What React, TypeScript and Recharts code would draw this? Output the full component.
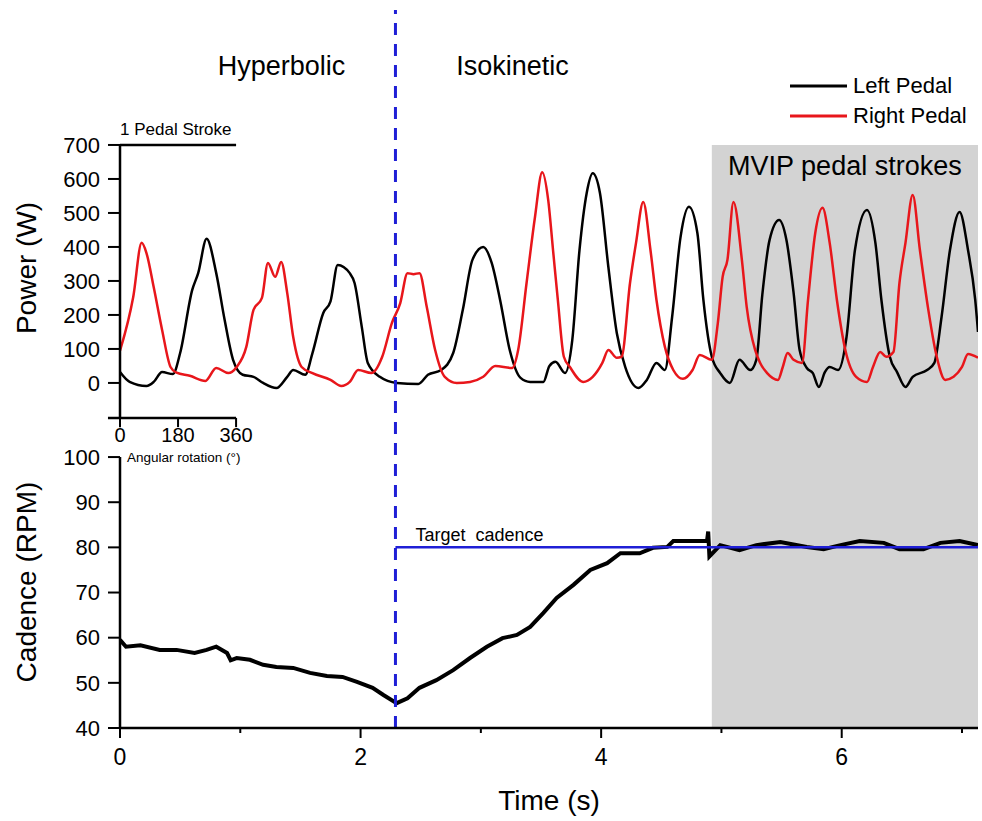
import React from 'react';
import { ComposedChart, Line, XAxis, YAxis, ReferenceLine, ReferenceArea, Legend } from 'recharts';

const FONT = 'Arial, "Liberation Sans", Helvetica, sans-serif';

// left pedal power (black)
const leftTime = [0, 0.08, 0.22, 0.28, 0.35, 0.44, 0.5, 0.6, 0.65, 0.72, 0.8, 0.87, 0.94, 1.02, 1.11, 1.19, 1.3, 1.39, 1.44, 1.54, 1.6, 1.69, 1.75, 1.81, 1.91, 1.95, 2.01, 2.06, 2.16, 2.3, 2.48, 2.56, 2.67, 2.77, 2.85, 2.93, 3.02, 3.09, 3.16, 3.24, 3.33, 3.41, 3.52, 3.57, 3.62, 3.7, 3.76, 3.82, 3.88, 3.93, 3.99, 4.06, 4.13, 4.2, 4.31, 4.38, 4.46, 4.53, 4.59, 4.66, 4.73, 4.8, 4.85, 4.92, 4.99, 5.07, 5.15, 5.24, 5.29, 5.34, 5.4, 5.48, 5.54, 5.6, 5.65, 5.71, 5.76, 5.81, 5.86, 5.9, 5.97, 6.04, 6.11, 6.21, 6.28, 6.33, 6.4, 6.46, 6.53, 6.59, 6.71, 6.77, 6.83, 6.9, 6.98, 7.05, 7.11, 7.133];
const leftPower = [32, 3, -9, 3, 32, 26, 88, 273, 323, 424, 323, 185, 68, 24, 18, 0, -15, 18, 38, 24, 88, 206, 240, 347, 323, 294, 165, 59, 18, 0, -3, 24, 38, 88, 215, 362, 400, 353, 244, 97, 15, 3, 3, 50, 62, 29, 126, 391, 559, 617, 559, 341, 147, 47, -15, 9, 59, 38, 194, 429, 518, 441, 244, 77, 29, 0, 68, 38, 68, 260, 420, 479, 421, 265, 97, 44, 29, -12, 32, 47, 38, 135, 391, 509, 412, 244, 77, 32, -12, 18, 38, 59, 194, 391, 503, 391, 244, 150];

// right pedal power (red)
const rightTime = [0, 0.11, 0.18, 0.22, 0.28, 0.35, 0.42, 0.47, 0.58, 0.71, 0.8, 0.9, 0.97, 1.05, 1.11, 1.18, 1.23, 1.29, 1.34, 1.39, 1.44, 1.51, 1.6, 1.75, 1.84, 1.91, 1.98, 2.09, 2.18, 2.26, 2.33, 2.39, 2.44, 2.49, 2.55, 2.62, 2.7, 2.8, 2.91, 3.02, 3.12, 3.26, 3.31, 3.38, 3.45, 3.51, 3.56, 3.6, 3.64, 3.69, 3.74, 3.85, 3.93, 4.01, 4.06, 4.13, 4.17, 4.24, 4.29, 4.35, 4.41, 4.46, 4.53, 4.6, 4.68, 4.76, 4.82, 4.92, 4.97, 5.01, 5.05, 5.1, 5.17, 5.21, 5.28, 5.32, 5.38, 5.47, 5.51, 5.55, 5.6, 5.67, 5.72, 5.78, 5.84, 5.9, 5.96, 6.03, 6.12, 6.21, 6.26, 6.32, 6.37, 6.43, 6.48, 6.53, 6.59, 6.65, 6.72, 6.79, 6.86, 6.93, 7.0, 7.05, 7.133];
const rightPower = [95, 253, 412, 382, 282, 156, 47, 30, 21, 6, 44, 29, 47, 106, 215, 250, 353, 312, 356, 265, 135, 47, 29, 9, -9, 3, 38, 29, 77, 176, 235, 323, 320, 323, 224, 97, 18, 0, 3, 18, 50, 44, 97, 294, 488, 620, 538, 391, 244, 77, 47, 3, 18, 59, 97, 74, 77, 294, 412, 532, 391, 244, 106, 38, 12, 38, 82, 68, 176, 312, 362, 532, 362, 224, 97, 60, 29, 9, 47, 88, 68, 59, 244, 441, 515, 412, 244, 97, 18, 3, 47, 91, 77, 91, 294, 412, 553, 391, 215, 77, 9, 18, 47, 85, 74];

// cadence
const cadenceTime = [0, 0.05, 0.17, 0.33, 0.47, 0.62, 0.72, 0.8, 0.89, 0.92, 0.97, 1.08, 1.19, 1.3, 1.44, 1.58, 1.72, 1.85, 1.97, 2.1, 2.19, 2.3, 2.39, 2.49, 2.63, 2.77, 2.91, 3.05, 3.18, 3.3, 3.41, 3.52, 3.63, 3.77, 3.91, 4.05, 4.16, 4.32, 4.43, 4.55, 4.6, 4.88, 4.89, 4.9, 4.99, 5.15, 5.29, 5.49, 5.71, 5.85, 5.99, 6.15, 6.35, 6.48, 6.68, 6.82, 6.98, 7.133];
const cadenceRpm = [59.5, 58.0, 58.3, 57.3, 57.3, 56.6, 57.3, 58.0, 56.6, 55.0, 55.5, 55.1, 54.0, 53.5, 53.3, 52.2, 51.5, 51.3, 50.2, 48.9, 47.3, 45.5, 46.6, 48.9, 50.6, 52.8, 55.5, 58.0, 59.9, 60.6, 62.4, 65.5, 68.8, 71.7, 75.0, 76.5, 78.7, 78.7, 79.9, 80.1, 81.4, 81.4, 83.5, 78.0, 80.5, 79.4, 80.5, 81.2, 80.1, 79.6, 80.5, 81.4, 81.0, 79.6, 79.6, 81.0, 81.4, 80.5];

const timeTicks = [0, 1, 2, 3, 4, 5, 6, 7];
const powerTicks = [0, 100, 200, 300, 400, 500, 600, 700];
const cadenceTicks = [40, 50, 60, 70, 80, 90, 100];
const angleTicks = [0, 180, 360];
const legendNames = ['Left Pedal', 'Right Pedal'];

const tMax = 7.133;
const phaseSwitch = 2.29;
const mvipStart = 4.92;
const targetCadence = 80;
const strokeSeconds = 0.965;
const powerDomain = [-1015, 1097];
const cadenceDomain = [40, 199];
const insetAxisPower = -103;
const insetTickPower = -130;

const leftData = leftTime.map((t, i) => ({ t, p: leftPower[i] }));
const rightData = rightTime.map((t, i) => ({ t, p: rightPower[i] }));
const cadenceData = cadenceTime.map((t, i) => ({ t, c: cadenceRpm[i] }));

const BLUE = '#1f1fd6';
const RED = '#e8161b';

const TimeTick = (props: any) => {
  const { x, y, payload } = props;
  const major = payload.value % 2 === 0;
  return (
    <g>
      <line x1={x} x2={x} y1={y - 10} y2={y - 10 + (major ? 10 : 5)} stroke="#000" strokeWidth={2} />
      {major && (
        <text x={x} y={y + 27} textAnchor="middle" fontSize={23} fill="#000" fontFamily={FONT}>
          {payload.value}
        </text>
      )}
    </g>
  );
};

const rotatedTitle = (text: string, dx: number, dy: number) => (props: any) => {
  const vb = props.viewBox;
  const x = vb.x + dx;
  const y = vb.y + dy;
  return (
    <text x={x} y={y} transform={`rotate(-90 ${x} ${y})`} textAnchor="middle" dominantBaseline="central" fontSize={28} fill="#000" fontFamily={FONT}>
      {text}
    </text>
  );
};

const phaseLabels = (props: any) => {
  const vb = props.viewBox;
  return (
    <g fontFamily={FONT} fontSize={27} fill="#000">
      <text x={vb.x - 114} y={vb.y + 65} textAnchor="middle">Hyperbolic</text>
      <text x={vb.x + 117} y={vb.y + 65} textAnchor="middle">Isokinetic</text>
    </g>
  );
};

const strokeLabel = (props: any) => {
  const vb = props.viewBox;
  return (
    <text x={vb.x} y={vb.y - 10} fontSize={17} fill="#000" fontFamily={FONT}>1 Pedal Stroke</text>
  );
};

const mvipLabel = (props: any) => {
  const vb = props.viewBox;
  return (
    <text x={vb.x + vb.width / 2} y={vb.y + 30} textAnchor="middle" fontSize={27} fill="#000" fontFamily={FONT}>MVIP pedal strokes</text>
  );
};

const targetLabel = (props: any) => {
  const vb = props.viewBox;
  return (
    <text x={vb.x + 20} y={vb.y - 6} fontSize={18} fill="#000" fontFamily={FONT} style={{ whiteSpace: 'pre' }}>Target  cadence</text>
  );
};

const angleLabel = (angle: number) => (props: any) => {
  const vb = props.viewBox;
  return (
    <g fontFamily={FONT} fill="#000">
      <text x={vb.x} y={vb.y + 24} textAnchor="middle" fontSize={20}>{angle}</text>
      {angle === 0 && <text x={vb.x + 7} y={vb.y + 44} fontSize={13.5}>Angular rotation (°)</text>}
    </g>
  );
};

const renderLegend = (props: any) => (
  <div style={{ fontFamily: FONT }}>
    {(props.payload || [])
      .filter((e: any) => legendNames.includes(e.value))
      .map((e: any) => (
        <div key={e.value} style={{ display: 'flex', alignItems: 'center', height: 30 }}>
          <svg width={57} height={6}>
            <line x1={0} y1={3} x2={57} y2={3} stroke={e.color} strokeWidth={3} />
          </svg>
          <span style={{ fontSize: 22, marginLeft: 6, color: '#000', lineHeight: '30px' }}>{e.value}</span>
        </div>
      ))}
  </div>
);

const App: React.FC = () => {
  return (
    <div style={{ position: 'absolute', left: 0, top: 0, width: 982, height: 821, background: '#fff' }}>
      <ComposedChart width={982} height={821} margin={{ top: 10, right: 4, left: 119.98, bottom: 33 }} style={{ fontFamily: FONT }}>
        <XAxis
          dataKey="t"
          type="number"
          domain={[0, tMax]}
          ticks={timeTicks}
          interval={0}
          allowDataOverflow
          height={60}
          tickSize={10}
          tickMargin={0}
          tickLine={false}
          axisLine={{ stroke: '#000', strokeWidth: 2.5 }}
          tick={<TimeTick />}
          label={{ value: 'Time (s)', position: 'bottom', offset: 2, fontSize: 28, fill: '#000' }}
        />
        <YAxis
          yAxisId="power"
          type="number"
          width={0.01}
          domain={powerDomain}
          ticks={powerTicks}
          interval={0}
          allowDataOverflow
          axisLine={false}
          tickSize={12}
          tickMargin={8}
          tickLine={{ stroke: '#000', strokeWidth: 2 }}
          tick={{ fontSize: 22, fill: '#000' }}
        />
        <YAxis
          yAxisId="cadence"
          type="number"
          width={0.01}
          domain={cadenceDomain}
          ticks={cadenceTicks}
          interval={0}
          allowDataOverflow
          axisLine={false}
          tickSize={12}
          tickMargin={8}
          tickLine={{ stroke: '#000', strokeWidth: 2 }}
          tick={{ fontSize: 22, fill: '#000' }}
        />

        <ReferenceArea
          yAxisId="power"
          x1={mvipStart}
          x2={tMax}
          y1={powerDomain[0]}
          y2={700}
          fill="#d3d3d3"
          fillOpacity={1}
          stroke="none"
          label={mvipLabel}
        />

        <Line data={leftData} dataKey="p" name="Left Pedal" yAxisId="power" type="monotone" stroke="#000" strokeWidth={2.5} dot={false} isAnimationActive={false} />
        <Line data={rightData} dataKey="p" name="Right Pedal" yAxisId="power" type="monotone" stroke={RED} strokeWidth={2.5} dot={false} isAnimationActive={false} />
        <Line data={cadenceData} dataKey="c" name="Cadence" yAxisId="cadence" type="linear" stroke="#000" strokeWidth={4} dot={false} legendType="none" isAnimationActive={false} />

        {/* power axis line + inset angle scale */}
        <ReferenceLine yAxisId="power" segment={[{ x: 0, y: insetAxisPower }, { x: 0, y: 700 }]} stroke="#000" strokeWidth={2.5} ifOverflow="visible" label={rotatedTitle('Power (W)', -93, 123)} />
        <ReferenceLine yAxisId="power" segment={[{ x: 0, y: 700 }, { x: strokeSeconds, y: 700 }]} stroke="#000" strokeWidth={2.5} ifOverflow="visible" label={strokeLabel} />
        <ReferenceLine yAxisId="power" segment={[{ x: -0.1, y: insetAxisPower }, { x: strokeSeconds, y: insetAxisPower }]} stroke="#000" strokeWidth={2.5} ifOverflow="visible" />
        {angleTicks.map((a) => (
          <ReferenceLine
            key={a}
            yAxisId="power"
            segment={[{ x: (a / 360) * strokeSeconds, y: insetAxisPower }, { x: (a / 360) * strokeSeconds, y: insetTickPower }]}
            stroke="#000"
            strokeWidth={2}
            ifOverflow="visible"
            label={angleLabel(a)}
          />
        ))}

        {/* cadence axis line + target */}
        <ReferenceLine yAxisId="cadence" segment={[{ x: 0, y: 40 }, { x: 0, y: 100 }]} stroke="#000" strokeWidth={2.5} ifOverflow="visible" label={rotatedTitle('Cadence (RPM)', -93, 125)} />
        <ReferenceLine yAxisId="cadence" segment={[{ x: phaseSwitch, y: targetCadence }, { x: tMax, y: targetCadence }]} stroke={BLUE} strokeWidth={2.5} ifOverflow="visible" label={targetLabel} />

        <ReferenceLine yAxisId="power" x={phaseSwitch} stroke={BLUE} strokeWidth={3} strokeDasharray="12 9" label={phaseLabels} />

        <Legend
          layout="horizontal"
          verticalAlign="middle"
          align="center"
          content={renderLegend}
          wrapperStyle={{ left: 790, top: 71, width: 'auto', height: 'auto' }}
        />
      </ComposedChart>
    </div>
  );
};

export default App;
